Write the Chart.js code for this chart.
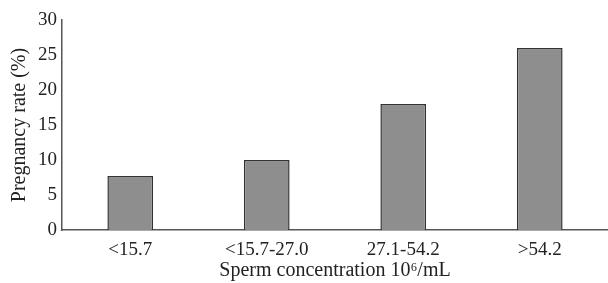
<!DOCTYPE html>
<html lang="en">
<head>
<meta charset="UTF-8" />
<title>Pregnancy rate by sperm concentration</title>
<script src="https://cdn.jsdelivr.net/npm/chart.js"></script>
<style>
  html, body { margin: 0; padding: 0; background: #fff; }
  #wrap { width: 608px; height: 283px; position: relative; }
</style>
</head>
<body>
<div id="wrap"><canvas id="grafico"></canvas></div>
<script>
  const categorias = ['<15.7', '<15.7-27.0', '27.1-54.2', '>54.2'];
  const taxas = [7.7, 10.0, 18.0, 26.0];
  const yTicks = [0, 5, 10, 15, 20, 25, 30];

  const serif = "'Liberation Serif', 'DejaVu Serif', serif";

  new Chart(document.getElementById('grafico'), {
    type: 'bar',
    data: {
      labels: categorias,
      datasets: [{
        data: taxas,
        backgroundColor: '#8e8e8e',
        borderColor: '#333',
        borderWidth: 1.5,
        barPercentage: 0.67,
        categoryPercentage: 0.5
      }]
    },
    options: {
      responsive: true,
      maintainAspectRatio: false,
      animation: false,
      layout: { padding: { top: 20, right: 0, bottom: 0, left: 0 } },
      plugins: { legend: { display: false }, tooltip: { enabled: false } },
      scales: {
        x: {
          grid: { display: false, drawTicks: false },
          border: { color: '#555', width: 1.5 },
          ticks: { color: '#222', font: { family: serif, size: 19 }, padding: 9 },
          afterFit: s => { s.height = 53; },
          title: {
            display: true, text: 'Sperm concentration 10\u2076/mL', color: '#222',
            font: { family: serif, size: 20 }, padding: { top: 0, bottom: 0 }
          }
        },
        y: {
          min: 0, max: 30,
          afterBuildTicks: s => { s.ticks = yTicks.map(v => ({ value: v })); },
          afterFit: s => { s.width = 62; },
          grid: { display: false, drawTicks: true, tickLength: 3, tickColor: '#555' },
          border: { color: '#555', width: 1.5 },
          ticks: { color: '#222', font: { family: serif, size: 19 }, padding: 2 },
          title: {
            display: true, text: 'Pregnancy rate (%)', color: '#222',
            font: { family: serif, size: 20 }, padding: { top: 8, bottom: 0 }
          }
        }
      }
    }
  });
</script>
</body>
</html>
